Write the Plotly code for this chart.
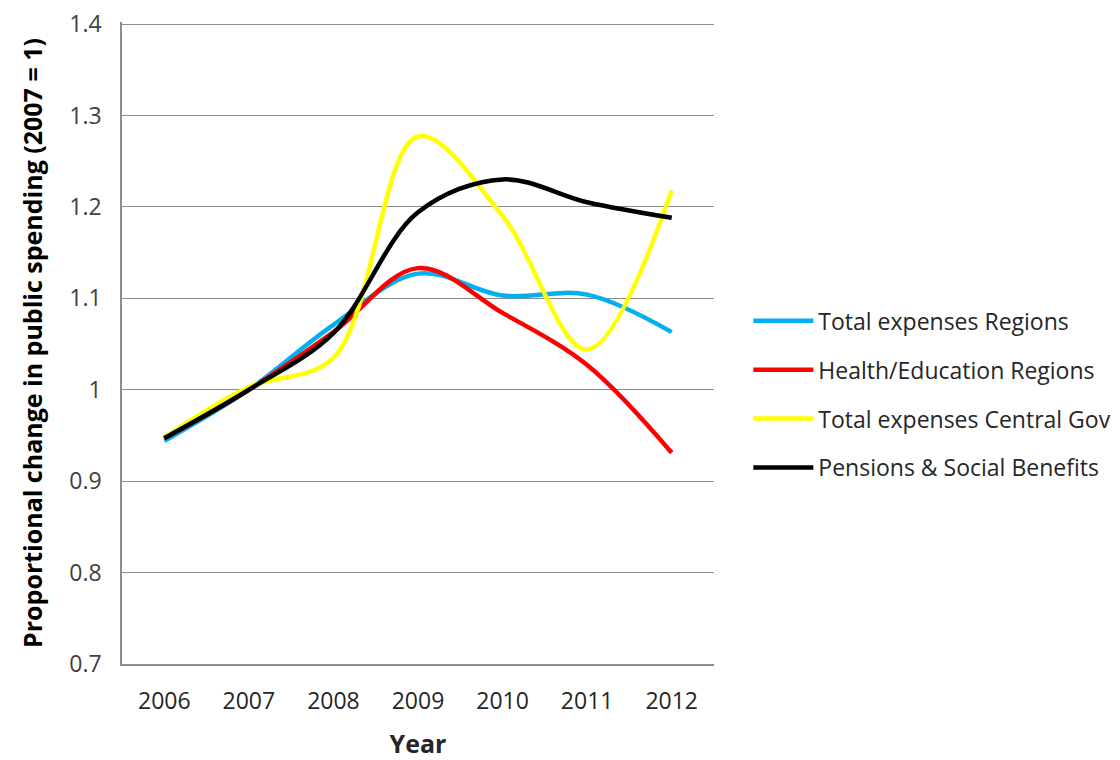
import plotly.graph_objects as go

years = ["2006", "2007", "2008", "2009", "2010", "2011", "2012"]
total_regions = [0.944, 1.0, 1.071, 1.127, 1.103, 1.104, 1.063]
health_edu_regions = [0.947, 1.0, 1.063, 1.133, 1.084, 1.027, 0.931]
total_central_gov = [0.948, 1.003, 1.035, 1.277, 1.19, 1.044, 1.218]
pensions_social = [0.947, 1.0, 1.062, 1.194, 1.23, 1.205, 1.188]
y_ticks = [0.7, 0.8, 0.9, 1.0, 1.1, 1.2, 1.3, 1.4]
y_tick_labels = ["0.7", "0.8", "0.9", "1", "1.1", "1.2", "1.3", "1.4"]

series = [
    ("Total expenses Regions", total_regions, "#00B0F0"),
    ("Health/Education Regions", health_edu_regions, "#FF0000"),
    ("Total expenses Central Gov", total_central_gov, "#FFFF00"),
    ("Pensions & Social Benefits", pensions_social, "#000000"),
]

fig = go.Figure()
for i, (name, vals, col) in enumerate(series):
    fig.add_trace(go.Scatter(
        x=years, y=vals, name=name, mode="lines",
        line=dict(color=col, width=4.5, shape="spline", smoothing=1.0),
        legendgroup=str(i),
    ))

font = "'Open Sans', sans-serif"
fig.update_layout(
    width=1112, height=752,
    margin=dict(l=114, r=406, t=14, b=96, autoexpand=False),
    plot_bgcolor="white", paper_bgcolor="white",
    font=dict(family=font, color="#404040", size=20),
    showlegend=True,
    legend=dict(
        x=1.058, y=0.42, xanchor="left", yanchor="middle",
        traceorder="grouped", tracegroupgap=16,
        font=dict(size=23, color="#262626"),
        itemwidth=60,
    ),
    xaxis=dict(
        type="category", range=[-0.5, 6.5],
        showline=True, linecolor="#8c8c8c", linewidth=1.5,
        showgrid=False, ticks="",
        ticklabelstandoff=16,
        tickfont=dict(size=23, color="#262626"),
        title=dict(text="<b>Year</b>", font=dict(size=25, color="#262626"), standoff=22),
        automargin=False,
    ),
    yaxis=dict(
        range=[0.7, 1.4022],
        tickmode="array", tickvals=y_ticks, ticktext=y_tick_labels,
        ticklabeloverflow="allow",
        showline=True, linecolor="#8c8c8c", linewidth=1.5,
        showgrid=True, gridcolor="#8c8c8c", gridwidth=1.2,
        zeroline=False, ticks="",
        ticklabelstandoff=14,
        tickfont=dict(size=23, color="#404040"),
        title=dict(text="<b>Proportional change in public spending (2007 = 1)</b>",
                   font=dict(size=25, color="#000000"), standoff=20),
        automargin=False,
    ),
)

fig.write_html("out.html")
